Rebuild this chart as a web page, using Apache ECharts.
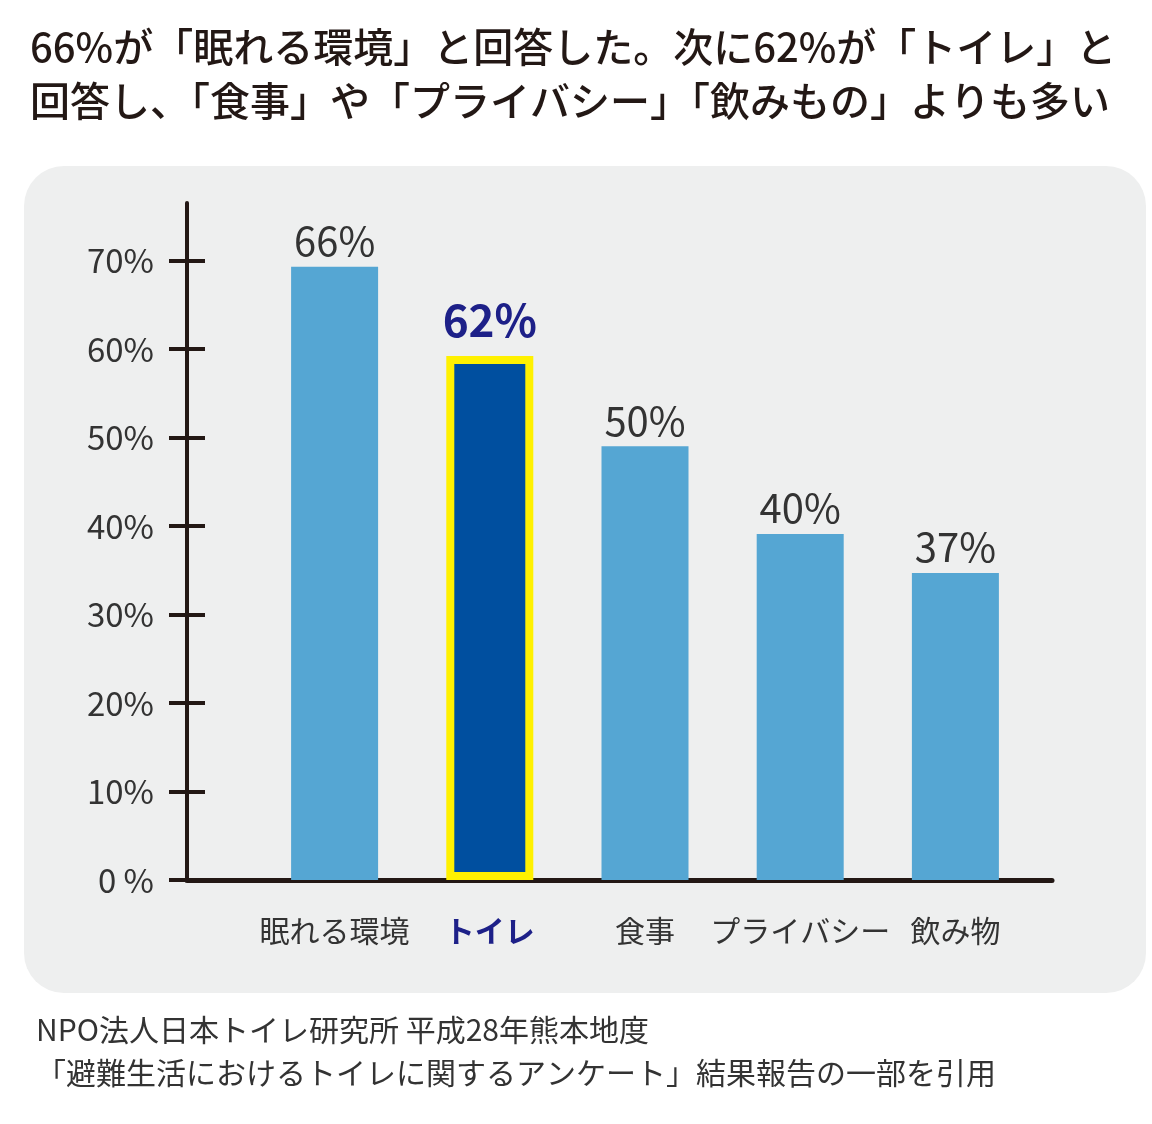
<!DOCTYPE html>
<html><head><meta charset="utf-8">
<script src="https://cdn.jsdelivr.net/npm/echarts@6/dist/echarts.min.js"></script>
<style>html,body{margin:0;padding:0;background:#fff}#c{width:1152px;height:1124px}</style>
</head><body><div id="c"></div>
<script>
// Categories and values
const categories = ['眠れる環境', 'トイレ', '食事', 'プライバシー', '飲み物'];
// Bar heights as drawn in the picture (percent on the axis scale)
const barHeights = [69.3, 59.2, 49.0, 39.1, 34.7];
// Value labels as printed above each bar
const valueLabels = ['66%', '62%', '50%', '40%', '37%'];
const highlightIndex = 1;
// Y-axis ticks and labels
const yTicks = [0, 10, 20, 30, 40, 50, 60, 70];
const yTickLabels = ['0 %', '10%', '20%', '30%', '40%', '50%', '60%', '70%'];
const yMax = 76.5;
// Texts
const titleLines = ['66%が「眠れる環境」と回答した。次に62%が「トイレ」と', '回答し、「食事」や「プライバシー」「飲みもの」よりも多い'];
const sourceLines = ['NPO法人日本トイレ研究所 平成28年熊本地度', '「避難生活におけるトイレに関するアンケート」結果報告の一部を引用'];

const FONT = '"Noto Sans CJK JP", "Noto Sans", sans-serif';
const AX = '#231815';
const LIGHT = '#55a6d3';
const DARK = '#004f9f';
const NAVY = '#1d2088';
const YELLOW = '#fff100';

const chart = echarts.init(document.getElementById('c'));
const option = {
  backgroundColor: '#ffffff',
  animation: false,
  title: [
    { text: titleLines.join('\n'), left: 30, top: 20, padding: 0,
      textStyle: { fontFamily: FONT, fontSize: 40, fontWeight: 500, color: '#231815', lineHeight: 54 } },
    { text: sourceLines.join('\n'), left: 36, top: 1008, padding: 0,
      textStyle: { fontFamily: FONT, fontSize: 30, fontWeight: 400, color: '#333333', lineHeight: 43 } }
  ],
  graphic: [
    { type: 'rect', z: -10, silent: true,
      shape: { x: 24, y: 166, width: 1122, height: 827, r: 40 },
      style: { fill: '#eeefef' } }
  ],
  grid: [
    { left: 257, right: 119, top: 203, bottom: 244 },
    { left: 187, right: 100, top: 203, bottom: 244 }
  ],
  xAxis: [
    { type: 'category', gridIndex: 0,
      data: categories.map((c, i) => i === highlightIndex
        ? { value: c, textStyle: { color: NAVY, fontWeight: 'bold' } }
        : c),
      axisLine: { show: false }, axisTick: { show: false },
      axisLabel: { interval: 0, hideOverlap: false, margin: 36, fontSize: 30, color: '#333333', fontFamily: FONT } },
    { type: 'value', gridIndex: 1, min: 0, max: 1,
      axisLine: { show: true, lineStyle: { color: AX, width: 5 } },
      axisTick: { show: false }, axisLabel: { show: false }, splitLine: { show: false } }
  ],
  yAxis: [
    { type: 'value', gridIndex: 0, min: 0, max: yMax, show: false, splitLine: { show: false } },
    { type: 'value', gridIndex: 1, position: 'left', min: 0, max: yMax,
      axisLine: { show: true, lineStyle: { color: AX, width: 4 } },
      axisTick: { show: true, length: 18, customValues: yTicks, lineStyle: { color: AX, width: 4 } },
      axisLabel: { customValues: yTicks, margin: 33, fontSize: 33, color: '#333333', fontFamily: FONT,
        formatter: v => yTickLabels[yTicks.indexOf(v)] },
      splitLine: { show: false } },
    { type: 'value', gridIndex: 1, position: 'left', min: 0, max: yMax,
      axisLine: { show: false },
      axisTick: { show: true, inside: true, length: 18, customValues: yTicks, lineStyle: { color: AX, width: 4 } },
      axisLabel: { show: false }, splitLine: { show: false } }
  ],
  series: [
    { type: 'bar', xAxisIndex: 0, yAxisIndex: 0, barWidth: 87,
      data: barHeights.map((v, i) => i === highlightIndex
        ? { value: v,
            itemStyle: { color: DARK, borderColor: YELLOW, borderWidth: 8 },
            label: { distance: 14, color: NAVY, fontWeight: 'bold', fontSize: 44 } }
        : { value: v, itemStyle: { color: LIGHT } }),
      label: { show: true, position: 'top', distance: 6, fontSize: 40, color: '#333333', fontFamily: FONT,
        formatter: p => valueLabels[p.dataIndex] } }
  ]
};
chart.setOption(option);
</script>
</body></html>
